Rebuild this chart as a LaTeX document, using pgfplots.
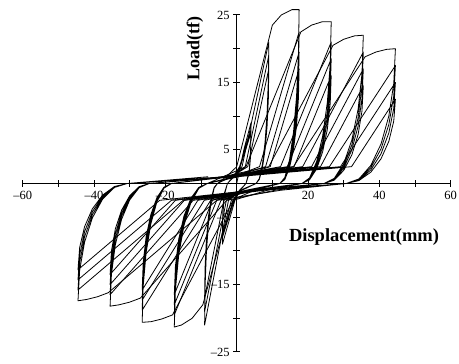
\documentclass[border=0pt]{standalone}
\usepackage{pgfplots}
\pgfplotsset{compat=1.18}
\usepackage{fontspec}
\setmainfont{Liberation Serif}
\pgfplotsset{loop/.style={black, mark=none, line width=0.8pt, line join=round}}

\begin{document}
\begin{tikzpicture}
\begin{axis}[
  scale only axis,
  width=428pt, height=337pt,
  xmin=-60, xmax=60, ymin=-25, ymax=25,
  axis lines=middle,
  axis line style={line width=1.1pt, -},
  tick align=center,
  major tick length=7pt,
  every tick/.style={line width=1pt, black},
  xtick={-60,-50,...,60},
  xticklabels={\textendash60,,\textendash40,,\textendash20,,,,20,,40,,60},
  ytick={-25,-20,...,25},
  yticklabels={\textendash25,,\textendash15,,\textendash5,,5,,15,,25},
  tick label style={font=\fontsize{12.5}{13}\selectfont},
  xticklabel style={yshift=-1pt},
  xlabel={Displacement(mm)},
  ylabel={Load(tf)},
  every axis x label/.style={at={(axis cs:35.7,-7.9)}, anchor=center, font=\fontsize{18.5}{20}\selectfont\bfseries},
  every axis y label/.style={at={(axis cs:-11.7,20.1)}, anchor=center, rotate=90, font=\fontsize{18}{20}\selectfont\bfseries},
  clip=false,
]
% cycles at +/-4 mm
\addplot[loop] coordinates {
(0,0) (2,5) (4,9) (3.9,4.95) (3.5,1.8) (2.6,0) (1.0,-1.0) (-0.5,-2.5)
(-4,-9) (-3.9,-4.95) (-3.5,-1.8) (-2.6,0) (-1.0,1.0) (0.8,2.5)
(4,8) (3.9,4.4) (3.5,1.6) (2.6,0) (1.0,-1.0) (-0.8,-2.5)
(-4,-8) (-3.9,-4.4) (-3.5,-1.6) (-2.6,0) (-1.0,1.0) (1.0,2.5)
(4,7.5) (3.9,4.1) (3.5,1.5) (2.6,0) (0.8,-1.0) (-1.0,-2.5)
(-4,-7.5) (-3.9,-4.1) (-3.5,-1.5) (-2.6,0) (-0.8,1.0) (1.5,2.5)
};
% cycles at +/-9 mm
\addplot[loop] coordinates {
(1.5,2.5) (9,21) (8.88,15.56) (8.52,10.5) (7.95,6.15) (7.2,2.81) (6.33,0.71) (5.4,0) (1.5,-1.0) (-2.3,-2.5)
(-9,-21) (-8.88,-15.56) (-8.52,-10.5) (-7.95,-6.15) (-7.2,-2.81) (-6.33,-0.71) (-5.4,0) (-1.5,1.0) (2.4,2.5)
(9,19) (8.88,14.08) (8.52,9.5) (7.95,5.57) (7.2,2.55) (6.33,0.65) (5.4,0) (1.3,-1.0) (-2.9,-2.5)
(-9,-19) (-8.88,-14.08) (-8.52,-9.5) (-7.95,-5.57) (-7.2,-2.55) (-6.33,-0.65) (-5.4,0) (-1.5,1.0) (3.1,2.5)
(9,17) (8.88,12.6) (8.52,8.5) (7.95,4.98) (7.2,2.28) (6.33,0.58) (5.4,0) (1.0,-1.0) (-3.6,-2.5)
(-9,-17) (-8.88,-12.6) (-8.52,-8.5) (-7.95,-4.98) (-7.2,-2.28) (-6.33,-0.58) (-5.4,0) (-2.5,1.2) (0,2.5)
};
% cycles at +/-17.5 mm
\addplot[loop] coordinates {
(0,2.5) (10,23.5) (12.5,25) (15.5,25.8) (17.5,25.8)
(17.31,19.12) (16.77,12.9) (15.91,7.56) (14.79,3.46) (13.48,0.88) (12.08,0) (5,-1.0) (-1.5,-2.5)
(-9.5,-18) (-12.5,-20) (-15.5,-21) (-17.5,-21.3)
(-17.18,-15.78) (-16.26,-10.65) (-14.79,-6.24) (-12.86,-2.85) (-10.62,-0.72) (-8.23,0) (-1,1.0) (6.4,2.5)
(17.5,22.5) (17.31,16.67) (16.77,11.25) (15.91,6.59) (14.79,3.02) (13.48,0.77) (12.08,0) (3.8,-1.0) (-4.4,-2.5)
(-17.5,-19.5) (-17.18,-14.45) (-16.26,-9.75) (-14.79,-5.71) (-12.86,-2.61) (-10.62,-0.66) (-8.23,0) (-0.9,1.0) (8.1,2.5)
(17.5,19.5) (17.31,14.45) (16.77,9.75) (15.91,5.71) (14.79,2.61) (13.48,0.66) (12.08,0) (3.2,-1.0) (-5.6,-2.5)
(-17.5,-18) (-17.18,-13.34) (-16.26,-9) (-14.79,-5.27) (-12.86,-2.41) (-10.62,-0.61) (-8.23,0) (0.6,1.0) (9.4,2.5)
(17.5,17) (17.31,12.6) (16.77,8.5) (15.91,4.98) (14.79,2.28) (13.48,0.58) (12.08,0) (2.6,-1.0) (-6.8,-2.5)
(-17.5,-16.5) (-17.18,-12.23) (-16.26,-8.25) (-14.79,-4.83) (-12.86,-2.21) (-10.62,-0.56) (-8.23,0) (-3,1.2) (2.6,2.5)
};
% cycles at +/-26.5 mm
\addplot[loop] coordinates {
(2.6,2.5) (18,22.5) (21,23.5) (24,24) (26.5,24)
(26.22,17.78) (25.40,12) (24.09,7.03) (22.39,3.22) (20.41,0.82) (18.29,0) (8.6,-1.0) (-1.0,-2.5)
(-18,-19.5) (-21,-20.1) (-24,-20.5) (-26.5,-20.6)
(-26.22,-15.26) (-25.40,-10.3) (-24.09,-6.04) (-22.39,-2.76) (-20.41,-0.7) (-18.29,0) (-3,1.0) (12.3,2.5)
(26.5,21) (26.22,15.56) (25.40,10.5) (24.09,6.15) (22.39,2.81) (20.41,0.71) (18.29,0) (5.5,-1.0) (-7.3,-2.5)
(-26.5,-18.8) (-26.22,-13.93) (-25.40,-9.4) (-24.09,-5.51) (-22.39,-2.52) (-20.41,-0.64) (-18.29,0) (-2,1.0) (14.2,2.5)
(26.5,18.5) (26.22,13.71) (25.40,9.25) (24.09,5.42) (22.39,2.48) (20.41,0.63) (18.29,0) (4.6,-1.0) (-9.1,-2.5)
(-26.5,-17.3) (-26.22,-12.82) (-25.40,-8.65) (-24.09,-5.07) (-22.39,-2.32) (-20.41,-0.59) (-18.29,0) (-2,1.0) (16.1,2.5)
(26.5,16) (26.22,11.86) (25.40,8) (24.09,4.69) (22.39,2.14) (20.41,0.54) (18.29,0) (3.7,-1.0) (-10.9,-2.5)
(-26.5,-15.8) (-26.22,-11.71) (-25.40,-7.9) (-24.09,-4.63) (-22.39,-2.12) (-20.41,-0.54) (-18.29,0) (-4,1.0) (9,2.5)
};
% cycles at +/-35.5 mm
\addplot[loop] coordinates {
(9,2.5) (27,20.5) (30,21.4) (33,21.9) (35.5,22)
(35.12,16.3) (34.03,11) (32.28,6.45) (30.0,2.95) (27.34,0.75) (24.5,0) (10.8,-1.0) (-2.8,-2.5)
(-27,-17) (-30,-17.6) (-33,-18) (-35.5,-18.2)
(-35.12,-13.49) (-34.03,-9.1) (-32.28,-5.33) (-30.0,-2.44) (-27.34,-0.62) (-24.5,0) (-3,1.0) (18.5,2.5)
(35.5,19.5) (35.12,14.45) (34.03,9.75) (32.28,5.71) (30.0,2.61) (27.34,0.66) (24.5,0) (6.2,-1.0) (-12.2,-2.5)
(-35.5,-16.5) (-35.12,-12.23) (-34.03,-8.25) (-32.28,-4.83) (-30.0,-2.21) (-27.34,-0.56) (-24.5,0) (-3,1.0) (21,2.5)
(35.5,17) (35.12,12.6) (34.03,8.5) (32.28,4.98) (30.0,2.28) (27.34,0.58) (24.5,0) (4.9,-1.0) (-14.7,-2.5)
(-35.5,-15) (-35.12,-11.12) (-34.03,-7.5) (-32.28,-4.4) (-30.0,-2.01) (-27.34,-0.51) (-24.5,0) (-1,1.0) (23.5,2.5)
(35.5,14.5) (35.12,10.74) (34.03,7.25) (32.28,4.25) (30.0,1.94) (27.34,0.49) (24.5,0) (3.6,-1.0) (-17.2,-2.5)
(-35.5,-13.5) (-35.12,-10.0) (-34.03,-6.75) (-32.28,-3.96) (-30.0,-1.81) (-27.34,-0.46) (-24.5,0) (-4,1.0) (15.9,2.5)
};
% cycles at +/-44.5 mm
\addplot[loop] coordinates {
(15.9,2.5) (36,18.8) (39,19.5) (42,19.9) (44.5,20)
(44.03,14.82) (42.65,10) (40.46,5.86) (37.6,2.68) (34.27,0.68) (30.71,0) (12.4,-1.0) (-5.6,-2.5)
(-36,-16.2) (-39,-16.8) (-42,-17.2) (-44.5,-17.4)
(-44.03,-12.89) (-42.65,-8.7) (-40.46,-5.10) (-37.6,-2.33) (-34.27,-0.59) (-30.71,0) (-2.4,1.0) (26,2.5)
(44.5,17.5) (44.03,12.97) (42.65,8.75) (40.46,5.13) (37.6,2.35) (34.27,0.6) (30.71,0) (7.9,-1.0) (-15,-2.5)
(-44.5,-15.8) (-44.03,-11.71) (-42.65,-7.9) (-40.46,-4.63) (-37.6,-2.12) (-34.27,-0.54) (-30.71,0) (-1.1,1.0) (29.1,2.5)
(44.5,15) (44.03,11.12) (42.65,7.5) (40.46,4.4) (37.6,2.01) (34.27,0.51) (30.71,0) (6.2,-1.0) (-18.3,-2.5)
(-44.5,-14.3) (-44.03,-10.6) (-42.65,-7.15) (-40.46,-4.19) (-37.6,-1.92) (-34.27,-0.49) (-30.71,0) (0,1.0) (32.2,2.5)
(44.5,12.5) (44.03,9.26) (42.65,6.25) (40.46,3.66) (37.6,1.68) (34.27,0.43) (30.71,0) (4.5,-1.0) (-21.6,-2.5)
(-44.5,-12.8) (-44.03,-9.48) (-42.65,-6.4) (-40.46,-3.75) (-37.6,-1.72) (-34.27,-0.44) (-30.71,0) (-8,1.0)
};
\end{axis}
\pgfresetboundingbox
\path[use as bounding box] ([shift={(-22.7pt,-12pt)}]current axis.south west) rectangle ([shift={(8.3pt,15pt)}]current axis.north east);
\end{tikzpicture}
\end{document}
